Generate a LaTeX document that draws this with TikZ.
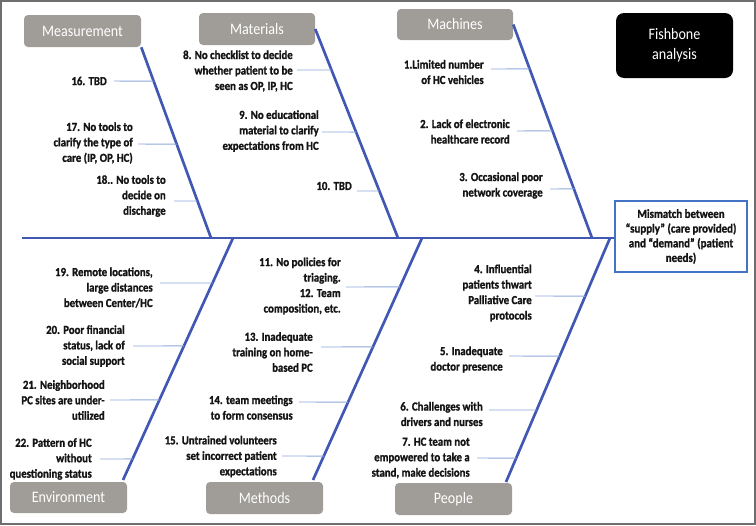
\documentclass[tikz,border=0pt]{standalone}
\usepackage{fontspec}
\setmainfont{Carlito}[FakeStretch=0.88]
\newfontfamily\labfont{Carlito Bold}[FakeStretch=0.88, FakeBold=1.3]
\usetikzlibrary{calc}
\definecolor{bonec}{RGB}{64,88,180}
\definecolor{tickc}{RGB}{143,168,220}
\definecolor{catgray}{RGB}{160,157,152}
\definecolor{misc}{RGB}{68,114,196}
\definecolor{framec}{RGB}{110,110,110}
\definecolor{labc}{RGB}{20,20,20}
\tikzset{
  lab/.style={font=\labfont\fontsize{9.2}{11.6}\selectfont, align=right, anchor=east, inner sep=0pt, text=labc},
  cat/.style={fill=catgray, rounded corners=3pt, text=white, font=\fontsize{12}{14}\selectfont, inner sep=0pt, minimum width=87.75pt, minimum height=24pt},
  bone/.style={draw=bonec, line width=2pt},
  tickline/.style={draw=tickc, line width=0.7pt},
}
\begin{document}
\begin{tikzpicture}[x=0.75pt,y=-0.75pt]
\useasboundingbox (0,0) rectangle (756,525);
\draw[framec, line width=1.5pt] (0.9,0.9) rectangle (755.1,524.1);

% category boxes
\node[cat] (meas) at (82.5,31) {Measurement};
\node[cat, minimum width=87pt] (mat) at (257,29) {Materials};
\node[cat, minimum width=87pt, minimum height=23.25pt] (mach) at (455,24.5) {Machines};
\node[cat, minimum height=23.25pt] (env) at (68.5,497.5) {Environment};
\node[cat] (meth) at (264.5,498) {Methods};
\node[cat] (peop) at (453.5,499) {People};

% title box
\node[fill=black, rounded corners=6pt, text=white, align=center, font=\fontsize{12}{15}\selectfont,
      minimum width=87.75pt, minimum height=48.75pt, inner sep=0pt] (fish) at (674.5,45.5) {Fishbone\\analysis};

% effect box
\node[draw=misc, line width=1.5pt, fill=white, align=center, font=\labfont\fontsize{9.3}{11}\selectfont,
      minimum width=99pt, minimum height=53.25pt, inner sep=0pt, text=labc] (mis) at (681,236.5)
      {Mismatch between\\“supply” (care provided)\\and “demand” (patient\\needs)};

% spine
\coordinate (tail) at (22,238);
\draw[draw=bonec, line width=2.2pt] (tail) -- (tail -| mis.west);

% spine points
\coordinate (sM) at (211,238);
\coordinate (sMa) at (398,238);
\coordinate (sMc) at (592,238);
\coordinate (sE) at (233,238);
\coordinate (sMe) at (422,238);
\coordinate (sP) at (610,238);
\coordinate (eE) at (123,480);
\coordinate (eMe) at (313,480);
\coordinate (eP) at (506,482);

% bones
\draw[bone] (meas.south east) -- (sM);
\draw[bone] (mat.east) -- (sMa);
\draw[bone] (mach.east) -- (sMc);
\draw[bone] (sE) -- (eE);
\draw[bone] (sMe) -- (eMe);
\draw[bone] (sP) -- (eP);

% Measurement
\node[lab] (l16) at (107,81) {16. TBD};
\coordinate (t16) at (114,81);
\draw[tickline] (t16) -- ($(meas.south east)!0.178!(sM)$);
\node[lab] (l17) at (133,143) {17. No tools to\\clarify the type of\\care (IP, OP, HC)};
\coordinate (t17) at (138,144);
\draw[tickline] (t17) -- ($(meas.south east)!0.508!(sM)$);
\node[lab] (l18) at (166,196) {18.. No tools to\\decide on\\discharge};
\coordinate (t18) at (174,201);
\draw[tickline] (t18) -- ($(meas.south east)!0.806!(sM)$);

% Materials
\node[lab] (l8) at (293,71) {8. No checklist to decide\\whether patient to be\\seen as OP, IP, HC};
\coordinate (t8) at (297,70);
\draw[tickline] (t8) -- ($(mat.east)!0.196!(sMa)$);
\node[lab] (l9) at (319,131) {9. No educational\\material to clarify\\expectations from HC};
\coordinate (t9) at (322,132);
\draw[tickline] (t9) -- ($(mat.east)!0.493!(sMa)$);
\node[lab] (l10) at (352,186) {10. TBD};
\coordinate (t10) at (357,191);
\draw[tickline] (t10) -- ($(mat.east)!0.775!(sMa)$);

% Machines
\node[lab] (l1) at (484,72) {1.Limited number\\of HC vehicles};
\coordinate (t1) at (491,69);
\draw[tickline] (t1) -- ($(mach.east)!0.208!(sMc)$);
\node[lab] (l2) at (510,131.5) {2. Lack of electronic\\healthcare record};
\coordinate (t2) at (517,131);
\draw[tickline] (t2) -- ($(mach.east)!0.498!(sMc)$);
\node[lab] (l3) at (543,185.5) {3. Occasional poor\\network coverage};
\coordinate (t3) at (550,189);
\draw[tickline] (t3) -- ($(mach.east)!0.77!(sMc)$);

% Environment
\node[lab] (l19) at (153,287.5) {19. Remote locations,\\large distances\\between Center/HC};
\coordinate (t19) at (160,283);
\draw[tickline] (t19) -- ($(sE)!0.186!(eE)$);
\node[lab] (l20) at (125,346) {20. Poor financial\\status, lack of\\social support};
\coordinate (t20) at (133,346);
\draw[tickline] (t20) -- ($(sE)!0.446!(eE)$);
\node[lab] (l21) at (105,400) {21. Neighborhood\\PC sites are under-\\utilized};
\coordinate (t21) at (110,400);
\draw[tickline] (t21) -- ($(sE)!0.669!(eE)$);
\node[lab] (l22) at (92,459) {22. Pattern of HC\\without\\questioning status};
\coordinate (t22) at (100,459);
\draw[tickline] (t22) -- ($(sE)!0.913!(eE)$);

% Methods
\node[lab] (l11) at (341,286) {11. No policies for\\triaging.\\12. Team\\composition, etc.};
\coordinate (t11) at (346,287);
\draw[tickline] (t11) -- ($(sMe)!0.202!(eMe)$);
\node[lab] (l13) at (313,352) {13. Inadequate\\training on home-\\based PC};
\coordinate (t13) at (321,347);
\draw[tickline] (t13) -- ($(sMe)!0.450!(eMe)$);
\node[lab] (l14) at (293,407.5) {14. team meetings\\to form consensus};
\coordinate (t14) at (299,402);
\draw[tickline] (t14) -- ($(sMe)!0.678!(eMe)$);
\node[lab] (l15) at (277,456.5) {15. Untrained volunteers\\set incorrect patient\\expectations};
\coordinate (t15) at (282,456);
\draw[tickline] (t15) -- ($(sMe)!0.901!(eMe)$);

% People
\node[lab] (l4) at (532,293) {4. Influential\\patients thwart\\Palliative Care\\protocols};
\coordinate (t4) at (535,296);
\draw[tickline] (t4) -- ($(sP)!0.238!(eP)$);
\node[lab] (l5) at (503,359.5) {5. Inadequate\\doctor presence};
\coordinate (t5) at (509,356);
\draw[tickline] (t5) -- ($(sP)!0.484!(eP)$);
\node[lab] (l6) at (483,414) {6. Challenges with\\drivers and nurses};
\coordinate (t6) at (489,410);
\draw[tickline] (t6) -- ($(sP)!0.705!(eP)$);
\node[lab] (l7) at (470,458) {7. HC team not\\empowered to take a\\stand, make decisions};
\coordinate (t7) at (477,458);
\draw[tickline] (t7) -- ($(sP)!0.902!(eP)$);
\end{tikzpicture}
\end{document}
